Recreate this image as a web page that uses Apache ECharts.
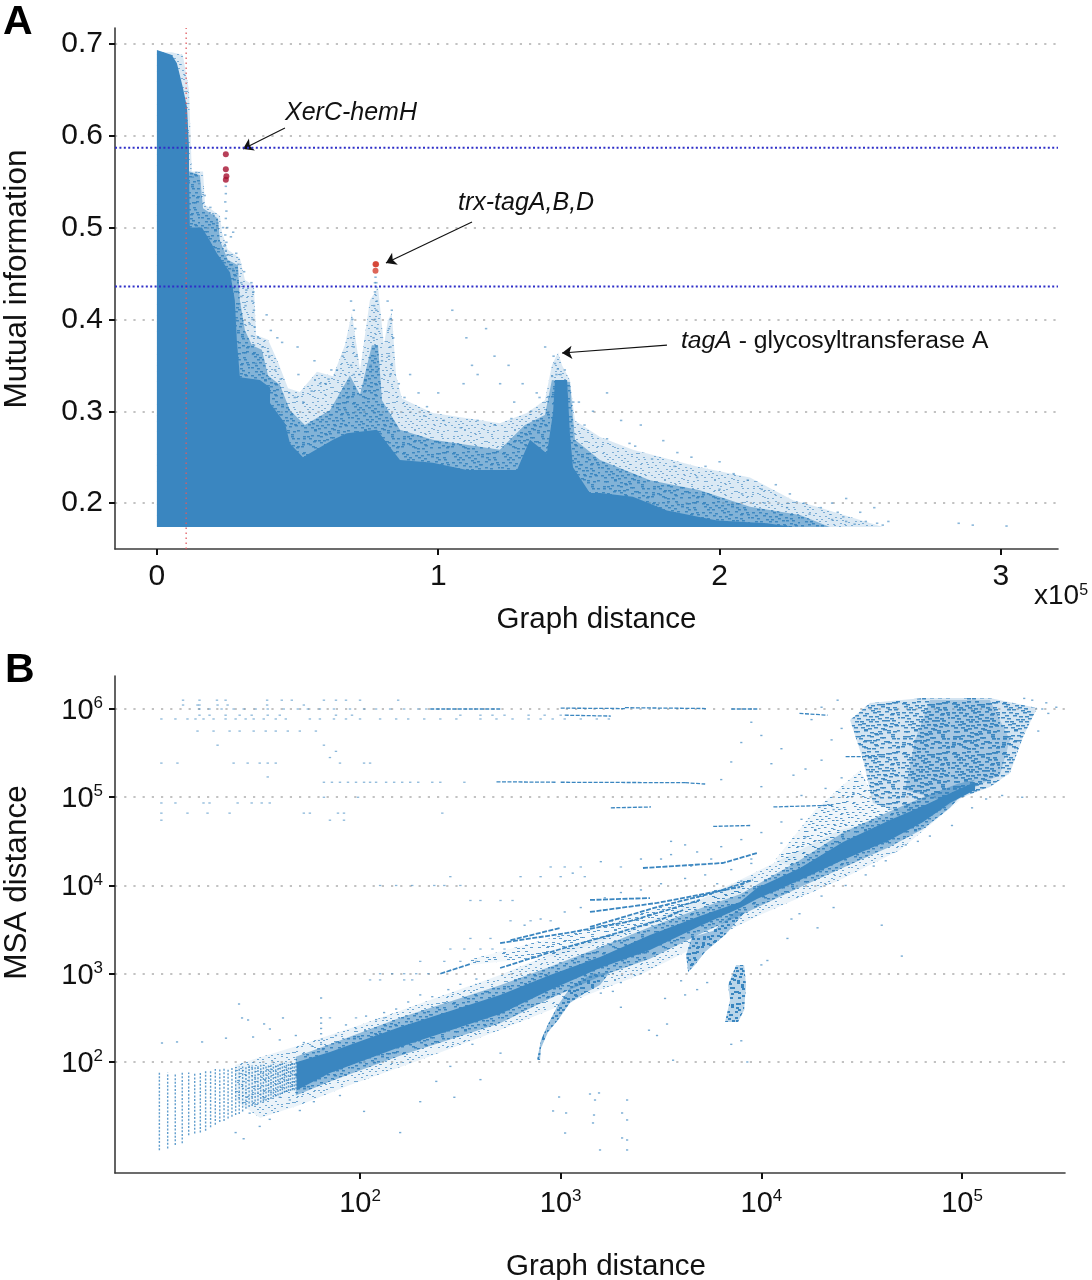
<!DOCTYPE html>
<html><head><meta charset="utf-8">
<style>html,body{margin:0;padding:0;background:#fff}#c{width:1092px;height:1280px}</style>
<script src="https://cdn.jsdelivr.net/npm/echarts@6/dist/echarts.min.js"></script>
</head><body><div id="c"></div>
<script>
// ---------- Panel A values (graph distance in units of 1e5, mutual information)
const miTicksX=[0,1,2,3];
const miTicksY=[0.2,0.3,0.4,0.5,0.6,0.7];
const miThresholds=[0.587,0.436];
const distCutoff=0.104;
const coreX=[0,0,.053,.071,.092,.107,.114,.114,.117,.16,.19,.213,.26,.277,.284,.295,.366,.402,.402,.455,.473,.519,.626,.675,.782,.828,.864,.981,1.102,1.28,1.326,1.386,1.408,1.415,1.458,1.468,1.479,1.539,1.575,1.692,1.813,1.991,2.169,2.261,0];
const coreY=[.174,.6935,.688,.679,.653,.631,.588,.563,.5,.5,.485,.472,.451,.421,.378,.337,.334,.326,.309,.287,.265,.25,.269,.276,.28,.261,.247,.244,.236,.236,.269,.254,.298,.334,.334,.276,.239,.211,.211,.207,.192,.181,.178,.174,.174];
const midX=[.1,.117,.153,.164,.217,.224,.252,.288,.295,.313,.338,.373,.395,.437,.473,.526,.615,.686,.722,.764,.786,.8,.864,.981,1.219,1.308,1.379,1.404,1.468,1.486,1.575,1.753,1.93,2.108,2.286,2.392,.1];
const midY=[.561,.561,.557,.521,.51,.486,.465,.459,.421,.388,.372,.367,.339,.329,.301,.285,.301,.339,.318,.372,.372,.312,.28,.269,.258,.285,.296,.334,.332,.269,.247,.225,.214,.196,.187,.174,.174];
const outerX=[0,.053,.092,.114,.121,.124,.164,.171,.224,.231,.252,.295,.313,.345,.352,.395,.43,.466,.508,.569,.626,.668,.693,.722,.757,.786,.807,.821,.835,.85,.871,.981,1.219,1.315,1.379,1.404,1.426,1.44,1.468,1.486,1.575,1.692,1.93,2.108,2.261,2.346,2.581,0];
const outerY=[.691,.691,.688,.65,.588,.561,.561,.525,.513,.495,.476,.467,.443,.437,.383,.378,.354,.325,.321,.343,.338,.372,.407,.345,.421,.435,.372,.399,.407,.339,.314,.298,.287,.298,.312,.35,.364,.35,.334,.29,.272,.258,.239,.228,.203,.196,.174,.174];
const miSparse=[[.245,.545],[.245,.537],[.243,.528],[.247,.518],[.245,.51],[.25,.5],[.243,.492],[.247,.484],[.245,.475],[.25,.47],[.263,.49],[.271,.495],[.282,.472],[.29,.46],[.3,.44],[.31,.452],[.318,.432],
[.336,.44],[.343,.43],[.339,.42],[.345,.41],[.34,.4],[.347,.392],[.338,.382],[.345,.372],[.341,.362],[.352,.352],[.39,.405],[.405,.388],[.428,.38],[.445,.375],[.395,.365],[.5,.37],[.503,.34],[.56,.355],[.62,.345],[.6,.33],[.69,.42],[.7,.41],[.695,.4],[.705,.39],[.69,.38],[.7,.37],[.71,.36],[.69,.35],[.7,.34],[.68,.33],
[.777,.446],[.775,.44],[.78,.435],[.775,.43],[.782,.42],[.772,.415],[.78,.41],[.775,.4],[.783,.39],[.77,.38],[.78,.37],[.775,.36],[.76,.35],[.785,.345],[.82,.42],[.835,.41],[.83,.4],[.825,.39],[.84,.38],[.83,.37],[.825,.36],[.835,.35],[.83,.34],[.78,.44],
[.9,.34],[.93,.32],[.96,.305],[1.0,.32],[1.05,.41],[1.1,.38],[1.12,.35],[1.14,.34],[1.09,.33],[1.17,.39],[1.2,.36],[1.25,.35],[1.22,.33],[1.3,.33],[1.27,.31],[1.35,.32],[1.38,.37],[1.41,.36],[1.415,.352],[1.425,.346],[1.42,.34],[1.435,.34],[1.405,.338],[1.45,.345],[1.5,.31],[1.55,.3],[1.6,.32],[1.65,.29],[1.72,.285],[1.7,.262],[1.8,.268],[1.85,.255],[1.9,.25],[1.95,.24],[2.0,.245],[2.05,.232],[2.1,.225],[2.15,.215],[2.2,.22],[2.25,.21],[2.3,.2],[2.36,.195],[2.4,.2],[2.42,.19],[2.45,.205],[2.44,.185],[2.45,.18],[2.5,.19],[2.52,.18],[2.55,.195],[2.56,.178],[2.58,.176],[2.6,.18],[2.85,.178],[2.9,.176],[3.02,.175],
[.128,.555],[.14,.56],[.15,.548],[.17,.535],[.19,.522],[.2,.515],[.215,.505],[.235,.5],[.24,.48],[.26,.47],[.27,.455],[.285,.45],[.3,.425],[.315,.415],[.33,.395],[.36,.38],[.375,.37],[.4,.36],[.42,.345],[.44,.335],[.47,.32],[.49,.315],[.52,.31],[.55,.322],[.58,.33],[.61,.335],[.64,.345],[.66,.36],[.72,.34],[.74,.33],[.8,.355],[.86,.33],[.88,.315],[.95,.295],[1.02,.29],[1.08,.282],[1.14,.29],[1.2,.285],[1.26,.292],[1.33,.3],[1.36,.315],[1.48,.31],[1.52,.285],[1.6,.27],[1.68,.265],[1.76,.248],[1.84,.24],[1.92,.228],[2.0,.215],[2.08,.21],[2.16,.2],[2.24,.195],[2.32,.188],[2.4,.182],[2.48,.177]];
const redDotsTop=[[.245,.58],[.245,.5635],[.247,.556],[.245,.552]];
const redDotsMid=[[.777,.46],[.779,.46],[.777,.453]];
const arrowLinks=[[.455,.6085,.306,.5856],[1.12,.506,.814,.4614],[1.813,.372,1.44,.3634]];

// ---------- Panel B values (log10 graph distance, log10 MSA distance)
const msaTicks=[100,1000,10000,100000];
const msaTicksY=[100,1000,10000,100000,1000000];
const bandX=[1.686,1.85,2.199,2.698,2.947,3.196,3.445,3.694,3.894,3.978,4.193,4.407,4.641,4.806,4.975,5.065,5.065,4.94,4.806,4.641,4.407,4.193,3.978,3.894,3.694,3.445,3.196,2.947,2.698,2.199,1.85,1.686];
const bandY=[2,2.113,2.397,2.759,2.986,3.19,3.439,3.654,3.813,3.972,4.198,4.493,4.742,4.901,5.082,5.173,5.082,4.935,4.72,4.516,4.289,4.062,3.847,3.745,3.541,3.269,3.065,2.816,2.544,2.17,1.875,1.683];
const nearX=[1.68,1.85,2.199,2.698,2.947,3.196,3.445,3.694,3.894,4.193,4.407,4.641,4.806,4.975,5.065,4.94,4.806,4.641,4.407,4.193,3.894,3.694,3.445,3.196,2.947,2.698,2.199,1.85,1.68];
const nearY=[2.06,2.2,2.5,2.87,3.08,3.3,3.53,3.74,3.9,4.29,4.6,4.84,5.0,5.15,5.2,4.88,4.64,4.44,4.2,3.98,3.66,3.45,3.17,2.97,2.72,2.44,2.07,1.78,1.62];
const haloX=[1.377,1.701,2,2.349,2.698,2.997,3.395,3.694,3.993,4.392,4.99,4.691,4.392,3.993,3.694,3.395,3.196,2.698,2.299,1.95,1.701,1.502,1.377];
const haloY=[1.966,2.193,2.419,2.703,2.986,3.269,3.552,3.836,4.176,4.629,4.969,4.402,4.062,3.666,3.326,2.986,2.816,2.363,2.023,1.739,1.513,1.365,1.569];
const fanX=[2.55,3.196,3.694,3.978,3.894,3.445,2.997,2.55];
const fanY=[3.16,3.552,3.892,4.119,3.892,3.552,3.212,3.1];
const shoulderX=[4.068,4.267,4.492,4.566,4.806,4.492,4.193];
const shoulderY=[4.289,4.856,5.309,4.969,4.742,4.459,4.176];
const tailX=[2.882,2.902,2.937,2.987,3.046,3.146,3.246,3.196,3.121,3.046,2.987,2.937,2.902,2.897];
const tailY=[2.023,2.249,2.431,2.646,2.839,2.986,3.02,2.873,2.782,2.669,2.476,2.34,2.159,2.023];
const blobAX=[3.635,3.625,3.654,3.759,3.869,3.919,3.819,3.719,3.669];
const blobAY=[3.02,3.212,3.416,3.484,3.7,3.7,3.439,3.246,3.099];
const blobBX=[3.874,3.914,3.924,3.914,3.884,3.819,3.844,3.834];
const blobBY=[3.099,3.099,2.873,2.589,2.453,2.453,2.703,2.873];
const cloudX=[4.541,4.806,5.139,5.374,5.304,5.239,5.139,5.005,4.806,4.556,4.507,4.442];
const cloudY=[6.068,6.125,6.125,6.011,5.683,5.275,5.116,5.003,4.742,4.935,5.422,5.875];
const cloudCoreX=[4.84,5.139,5.239,5.189,5.065,4.89,4.716,4.766];
const cloudCoreY=[6.102,6.102,5.649,5.252,5.116,4.969,5.082,5.649];
const rays=[
 [[2.698,3.065],[3.032,3.303],[3.281,3.462],[3.495,3.609],[3.61,3.722]],
 [[2.698,3.348],[3.032,3.462],[3.331,3.586],[3.53,3.722],[3.694,3.836]],
 [[3.146,3.53],[3.48,3.756],[3.759,3.915],[3.958,4.062]],
 [[3.146,3.7],[3.48,3.802],[3.894,3.983]],
 [[3.146,3.836],[3.445,3.858]],
 [[3.41,4.198],[3.809,4.255],[3.978,4.368]],
 [[2.4,3.0],[2.55,3.11]],
 [[2.75,3.38],[3.0,3.52]]
];
const streaks=[
 [[2.35,6.0],[2.7,6.0]],[[3.0,6.01],[3.32,6.005]],[[3.32,6.015],[3.73,6.005]],[[3.85,6.0],[3.98,6.0]],
 [[3.02,5.93],[3.25,5.92]],
 [[2.68,5.175],[2.98,5.17]],[[3.0,5.17],[3.62,5.165]],[[3.62,5.165],[3.72,5.15]],
 [[4.06,4.89],[4.36,4.91]],[[3.76,4.67],[3.95,4.68]],[[4.19,5.95],[4.33,5.93]],[[4.42,5.46],[4.6,5.46]],[[3.25,4.88],[3.45,4.89]]
];
const dotRows=[
 [6.10,[1.118,1.2,1.287,1.33,1.537,1.61,1.66,1.82,1.88,1.93,2.0,2.19]],
 [6.045,[1.19,1.2,1.118,1.29,1.34,1.537,1.72]],
 [6.0,[1.2,1.25,1.31,1.37,1.42,1.48,1.54,1.62,1.69,1.74,1.8,1.87,1.95,2.02,2.08,2.15,2.22,2.29,2.33]],
 [5.93,[1.2,1.25,1.33,1.4,1.46,1.54,1.6,1.88,1.96,2.5,2.6,2.66,2.72,2.84,2.92,3.0]],
 [5.887,[1.01,1.08,1.14,1.18,1.22,1.27,1.33,1.38,1.43,1.47,1.52,1.58,1.63,1.75,1.8,1.87,1.93,2.0,2.1,2.18,2.24,2.32,2.4,2.48,2.6,2.68,2.76,2.84,2.9,2.96,3.02,3.1,3.18,3.24]],
 [5.75,[1.19,1.27,1.35,1.4,1.47,1.53,1.58,1.64,1.7,1.78]],
 [5.59,[1.29,1.82]],[5.52,[1.88]],[5.45,[1.85]],
 [5.387,[1.01,1.09,1.37,1.44,1.5,1.54,1.58,1.9,2.02,2.05]],
 [5.23,[1.54]],
 [5.17,[1.82,1.86,1.9,1.94,1.98,2.02,2.05,2.08,2.13,2.17,2.21,2.25,2.29,2.36,2.4,2.52]],
 [5.0,[1.82,1.99]],
 [4.935,[1.01,1.08,1.22,1.25,1.39,1.46,1.51,1.55]],
 [4.82,[1.01,1.14,1.24,1.35,1.72,1.75,1.89,1.92,2.41]],
 [4.74,[1.01,1.85,1.92]],
 [4.1,[2.45,2.8,2.9,3.0,3.12]],
 [4.21,[2.95,3.02,3.1,3.3]],
 [4.0,[2.1,2.18,2.26,2.37,2.42,2.5]],
 [3.83,[2.55,2.6,2.7,2.76]],
 [3.6,[2.75,2.85,2.95]],[3.4,[2.55,2.65]],[3.28,[2.45,2.52,2.6,2.66,2.72]],
 [3.14,[2.3,2.42,2.5,2.58]],[3.0,[2.1,2.16,2.22,2.28,2.34]],[2.93,[2.05,2.1,2.22,2.26]],
 [2.5,[1.85,1.98,2.12]]
];
const msaSparse=[[1.013,2.215],[1.088,2.227],[1.213,2.227],[1.332,2.27],[1.397,2.657],[1.412,2.499],[1.442,2.476],[1.616,2.499],[1.522,2.431],[1.551,2.374],[1.467,2.283],[1.806,2.725],
[1.806,2.5],[1.806,2.44],[1.806,2.38],[1.806,2.32],[1.81,2.26],[1.806,2.2],[1.815,2.14],[1.6,2.25],[1.68,2.3],[1.72,2.22],[1.76,2.18],[1.88,2.3],[1.93,2.42],[1.98,2.38],[2.03,2.52],[2.08,2.48],[2.12,2.56],[2.18,2.6],[2.24,2.68],[2.3,2.76],[2.36,2.74],[2.44,2.82],[2.5,2.88],[2.58,2.94],
[1.7,1.45],[1.77,1.55],[1.65,1.57],[1.55,1.35],[1.52,1.58],[1.45,1.42],[1.38,1.2],[1.42,1.13],[1.5,1.27],[1.6,1.6],[1.9,1.62],[2.02,1.44],[2.2,1.2],[2.3,1.55],[2.38,1.78],[2.47,1.6],[2.6,1.8],[2.7,2.1],[2.45,1.95],[2.56,2.2],
[2.962,1.445],[3.027,1.422],[2.992,1.603],[3.022,1.195],[3.146,1.637],[3.171,1.569],[3.191,1.649],[3.331,1.569],[3.166,1.399],[3.306,1.422],[3.331,1.343],[3.306,1.139],[3.331,1.116],[3.196,1.003],[3.331,1.003],[3.161,1.309],
[3.3,2.62],[3.52,2.72],[3.53,2.43],[3.48,2.3],[3.44,2.36],[3.56,2.02],[3.93,2.0],[3.9,2.24],[3.85,2.2],[3.3,2.9],[3.2,2.78],[3.26,2.8],[3.6,2.92],[3.73,2.9],[3.62,2.76],[3.68,2.82],[4.0,3.1],[4.03,3.15],[4.13,3.4],[4.15,3.62],[4.19,3.68],[4.3,3.88],[4.36,3.75],
[4.6,3.55],[4.7,3.2],[4.28,3.52],[4.42,4.0],[4.52,4.12],[4.56,4.22],[4.62,4.28],[4.72,4.46],[4.78,4.5],[4.84,4.56],[4.95,4.68],[5.05,4.88],[5.12,4.98],[5.2,5.02],[5.3,5.0],[5.38,5.75],[5.43,5.95],[5.47,6.02],[5.42,6.07],[5.4,6.0],[5.35,6.1],[5.31,6.12],
[4.3,6.02],[4.25,5.88],[4.38,6.1],[4.4,5.78],[4.35,5.65],[4.3,5.42],[4.22,5.32],[4.16,5.25],[4.1,5.55],[4.05,5.38],[4.0,5.7],[3.95,5.85],[3.9,5.62],[3.85,5.4],[3.8,5.2],[4.0,5.12],[4.2,5.02],[4.32,5.1],[4.4,5.22],[4.46,5.04],[4.36,4.86],[4.2,4.75],[4.1,4.72],[4.0,4.6],[3.9,4.52],[3.8,4.44],[3.75,4.3],[3.68,4.38],[3.62,4.46],[3.55,4.5],[3.5,4.3],[3.95,4.3],[4.1,4.48],[4.22,4.55],
[2.82,3.55],[2.9,3.62],[3.02,3.7],[3.1,3.75],[3.22,3.86],[3.3,3.92],[3.4,3.95],[3.5,4.02],[3.62,4.08],[3.72,4.12],[3.85,4.18],[3.95,4.25],[3.06,4.14],[3.2,4.27],[3.4,4.3],[3.55,4.35],[3.65,4.22],[3.9,4.05],[3.78,4.02]];
const stripeX=[10,11,12,13,14,15,16,17,18,19,20,21,22,23,24,25,26,27,28,29,30,31,32,33,34,35,36,37,38,39,40,41,42,43,44,45,46,47,48,49];
const stripeLow=[1.0,1.02,1.06,1.08,1.17,1.19,1.2,1.22,1.26,1.29,1.32,1.33,1.36,1.38,1.4,1.41,1.44,1.47,1.49,1.5,1.51,1.52,1.54,1.55,1.56,1.57,1.58,1.6,1.61,1.62,1.63,1.64,1.65,1.66,1.67,1.67,1.68,1.68,1.69,1.69];
const stripeHigh=[1.88,1.88,1.86,1.88,1.88,1.88,1.89,1.91,1.91,1.92,1.93,1.93,1.93,1.94,1.94,1.95,1.95,1.95,1.96,1.96,1.96,1.96,1.97,1.97,1.97,1.97,1.98,1.98,1.98,1.98,1.99,1.99,1.99,1.99,2,2,2,2,2,2];

// ---------- styling + helpers
const BLUE='#3a86c0';
const FONT='"Liberation Sans",Arial,sans-serif';
// fixed speckle texture for the stippled regions
const speckle=[[3,2],[17,1],[31,4],[44,2],[9,7],[24,8],[38,9],[2,12],[15,13],[29,14],[46,12],[7,18],[21,19],[35,17],[42,20],[12,23],[27,24],[1,25],[39,26],[18,28],[33,29],[6,31],[47,30],[24,33],[11,35],[41,34],[30,37],[3,38],[18,40],[36,41],[45,42],[9,44],[25,45],[14,47],[38,47],[1,46],
[6,4],[21,5],[36,3],[12,9],[43,7],[27,11],[5,15],[19,16],[32,20],[48,17],[10,21],[25,21],[44,24],[4,27],[14,30],[28,31],[37,32],[20,36],[7,36],[42,38],[13,41],[31,43],[2,42],[22,48],[47,46],[34,25],[16,25],[40,14],[23,40]];
function tile(bg,count,fg,w,h){
  const c=document.createElement('canvas');c.width=50;c.height=50;const g=c.getContext('2d');
  g.fillStyle='rgba(58,134,192,'+bg+')';g.fillRect(0,0,50,50);
  g.fillStyle='rgba(58,134,192,'+fg+')';
  speckle.slice(0,count).forEach(p=>{g.fillRect(p[0],p[1],w,h);g.fillRect(p[1],p[0],w,h);});
  return {image:c,repeat:'repeat'};
}
function poly(axis,xs,ys,fill,z){
  return {type:'custom',xAxisIndex:axis,yAxisIndex:axis,z:z,silent:true,clip:true,
    data:xs.map((x,i)=>[x,ys[i]]),
    renderItem:(p,api)=>p.dataIndex?null:{type:'polygon',shape:{points:xs.map((x,i)=>api.coord([x,ys[i]]))},style:{fill:fill}}};
}
const exp=v=>Math.pow(10,v);
const polyLog=(xs,ys,fill,z)=>poly(1,xs.map(exp),ys.map(exp),fill,z);
function dash(axis,pts,width,type,color,z){
  return {type:'line',xAxisIndex:axis,yAxisIndex:axis,data:pts,symbol:'none',silent:true,z:z,clip:true,
    lineStyle:{width:width,type:type,color:color,cap:'butt'}};
}
const msaRowPts=[];dotRows.forEach(r=>r[1].forEach(x=>msaRowPts.push([exp(x),exp(r[0])])));
const stripes=stripeX.map((x,i)=>[x,exp(stripeLow[i]),exp(stripeHigh[i])]);

const gridLine={show:true,lineStyle:{color:'#c2c2c2',width:2.2,type:[2.2,7],cap:'butt'}};
const axLine={show:true,onZero:false,lineStyle:{color:'#3c3c3c',width:1.6}};
const tickS={show:true,length:6,lineStyle:{color:'#111',width:2}};
const sup={b:{fontSize:29,fontFamily:FONT,color:'#111',padding:[4,0,0,0]},s:{fontSize:17,fontFamily:FONT,color:'#111',padding:[0,0,11,0]}};
const powFmt=v=>'{b|10}{s|'+Math.round(Math.log10(v))+'}';
const nameX=p=>({fontSize:29.5,color:'#111',fontFamily:FONT,padding:[0,0,0,p]});
const nameY=p=>({fontSize:31.5,color:'#111',fontFamily:FONT,padding:[0,0,0,p]});

const option={
 animation:false,backgroundColor:'#fff',
 textStyle:{fontFamily:FONT},
 grid:[{left:115,top:28,width:943,height:521,outerBoundsMode:'none'},{left:115,top:676,width:950,height:497,outerBoundsMode:'none'}],
 xAxis:[
  {type:'value',gridIndex:0,min:-0.149,max:3.203,name:'Graph distance',nameLocation:'middle',nameGap:56,
   nameTextStyle:nameX(20),splitLine:{show:false},axisLine:axLine,
   axisTick:{...tickS,customValues:miTicksX},axisLabel:{fontSize:30,color:'#111',margin:13,customValues:miTicksX,formatter:v=>String(v),hideOverlap:false}},
  {type:'log',gridIndex:1,min:6.01,max:326000,name:'Graph distance',nameLocation:'middle',nameGap:79,
   nameTextStyle:nameX(32),splitLine:{show:false},axisLine:axLine,
   axisTick:{...tickS,customValues:msaTicks},axisLabel:{margin:12,customValues:msaTicks,formatter:powFmt,rich:sup,hideOverlap:false}}
 ],
 yAxis:[
  {type:'value',gridIndex:0,min:0.15,max:0.7174,name:'Mutual information',nameLocation:'middle',nameGap:82,nameRotate:90,
   nameTextStyle:nameY(19),splitLine:{...gridLine,customValues:miTicksY},axisLine:axLine,
   axisTick:{...tickS,customValues:miTicksY},axisLabel:{fontSize:30,color:'#111',margin:12,customValues:miTicksY,formatter:v=>v.toFixed(1),hideOverlap:false}},
  {type:'log',gridIndex:1,min:5.52,max:2366000,name:'MSA distance',nameLocation:'middle',nameGap:82,nameRotate:90,
   nameTextStyle:nameY(84),splitLine:gridLine,axisLine:axLine,
   axisTick:{...tickS,customValues:msaTicksY},axisLabel:{margin:12,customValues:msaTicksY,formatter:powFmt,rich:sup,hideOverlap:false}}
 ],
 graphic:[
  {type:'text',left:3,top:2,style:{text:'A',font:'bold 41px '+FONT,fill:'#000'}},
  {type:'text',left:5,top:650,style:{text:'B',font:'bold 41px '+FONT,fill:'#000'}},
  {type:'text',x:1034,y:582,style:{text:'x10{s|5}',font:'28px '+FONT,fill:'#111',rich:{s:{fontSize:16,padding:[0,0,11,0],fill:'#111'}}}},
  {type:'text',x:285,y:101,style:{text:'XerC-hemH',font:'italic 25px '+FONT,fill:'#111'}},
  {type:'text',x:458,y:191,style:{text:'trx-tagA,B,D',font:'italic 25px '+FONT,fill:'#111'}},
  {type:'text',x:681,y:329,style:{text:'{i|tagA} - glycosyltransferase A',font:'24.7px '+FONT,fill:'#111',rich:{i:{fontStyle:'italic',fontSize:24.7,fill:'#111'}}}}
 ],
 series:[
  poly(0,outerX,outerY,tile(0.18,65,0.6,2,1),2),
  poly(0,midX,midY,tile(0.55,65,0.9,3,1.5),3),
  poly(0,coreX,coreY,BLUE,4),
  {type:'scatter',xAxisIndex:0,yAxisIndex:0,data:miSparse,symbol:'rect',symbolSize:[2.4,1.6],silent:true,z:5,itemStyle:{color:BLUE,opacity:.6}},
  dash(0,[[distCutoff,.15],[distCutoff,.7174]],1.6,[1.5,3.5],'rgba(222,90,95,.8)',6),
  dash(0,[[-.149,miThresholds[0]],[3.203,miThresholds[0]]],2,[2,2.4],'#2f2fc8',6),
  dash(0,[[-.149,miThresholds[1]],[3.203,miThresholds[1]]],2,[2,2.4],'#2f2fc8',6),
  {type:'scatter',xAxisIndex:0,yAxisIndex:0,data:redDotsTop,symbolSize:6,silent:true,z:7,itemStyle:{color:'#a5102f'},
   markLine:{silent:true,animation:false,symbol:['none','arrow'],symbolSize:10,label:{show:false},lineStyle:{color:'#111',width:1.1,type:'solid'},
     data:arrowLinks.map(a=>[{coord:[a[0],a[1]]},{coord:[a[2],a[3]]}])}},
  {type:'scatter',xAxisIndex:0,yAxisIndex:0,data:redDotsMid,symbolSize:6,silent:true,z:7,itemStyle:{color:'#d5402f'}},

  polyLog(cloudX,cloudY,tile(0.22,65,0.95,4,1.5),2),
  polyLog(cloudCoreX,cloudCoreY,tile(0.3,65,0.95,4,1.5),3),
  polyLog(shoulderX,shoulderY,tile(0.08,65,0.85,2.5,1),2),
  polyLog(fanX,fanY,tile(0.06,65,0.8,3,1),2),
  polyLog(haloX,haloY,tile(0.1,65,0.7,2,1),2),
  polyLog(nearX,nearY,tile(0.5,65,0.95,3,1.5),3),
  {type:'custom',xAxisIndex:1,yAxisIndex:1,z:3,silent:true,clip:true,data:stripes,
   renderItem:(p,api)=>{const a=api.coord([api.value(0),api.value(1)]),b=api.coord([api.value(0),api.value(2)]);
     return {type:'line',shape:{x1:a[0],y1:a[1],x2:b[0],y2:b[1]},style:{stroke:BLUE,lineWidth:1.4,lineDash:[2,1.6],opacity:.8}};}},
  polyLog(tailX,tailY,tile(0.5,65,1,3,2),4),
  polyLog(blobAX,blobAY,tile(0.45,65,1,3,2),4),
  polyLog(blobBX,blobBY,tile(0.35,65,1,3,2),4),
  polyLog(bandX,bandY,BLUE,5),
  ...rays.map(r=>dash(1,r.map(p=>[exp(p[0]),exp(p[1])]),1.8,[5,1.5],BLUE,4)),
  ...streaks.map(r=>dash(1,r.map(p=>[exp(p[0]),exp(p[1])]),1.3,[4,1.5],BLUE,4)),
  {type:'scatter',xAxisIndex:1,yAxisIndex:1,data:msaRowPts,symbol:'rect',symbolSize:[2.4,1.3],silent:true,z:4,itemStyle:{color:BLUE,opacity:.6}},
  {type:'scatter',xAxisIndex:1,yAxisIndex:1,data:msaSparse.map(p=>[exp(p[0]),exp(p[1])]),symbol:'rect',symbolSize:[2.2,1.4],silent:true,z:4,itemStyle:{color:BLUE,opacity:.7}}
 ]
};
const chart=echarts.init(document.getElementById('c'),null,{renderer:'canvas'});
chart.setOption(option);
</script></body></html>
